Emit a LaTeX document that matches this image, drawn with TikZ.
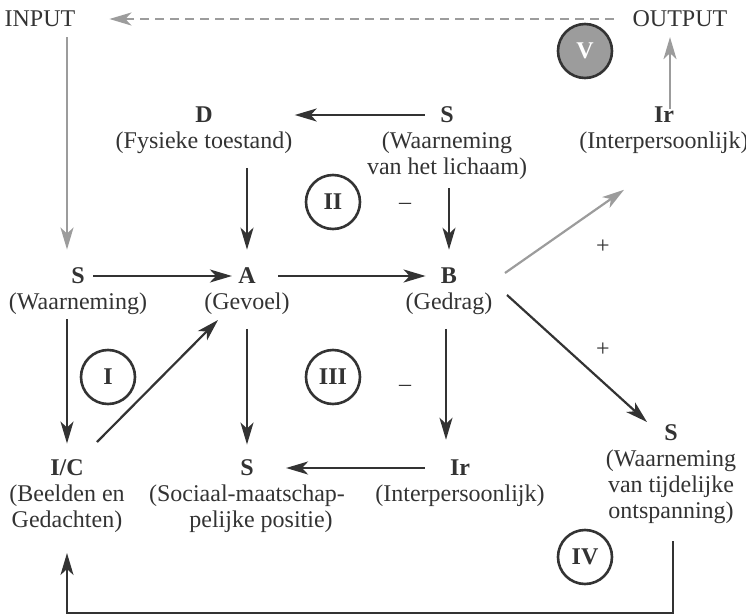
\documentclass[tikz,border=0pt]{standalone}
\usepackage{fontspec}
\setmainfont{Liberation Serif}
\usetikzlibrary{arrows.meta,positioning,calc}
\definecolor{ink}{HTML}{333333}
\definecolor{lgray}{HTML}{9C9C9C}

\begin{document}
\begin{tikzpicture}[x=0.5pt, y=-0.5pt,
    every node/.style={text=ink, font=\fontsize{12}{13}\selectfont},
    letter/.style={font=\fontsize{12}{13}\selectfont\bfseries, inner sep=3pt},
    desc/.style={align=center, inner sep=2pt, below=-1pt of #1},
    pijl/.style={draw=ink, line width=1.1pt, -{Stealth[length=11pt, width=6.5pt, inset=3pt]}},
    grijs/.style={draw=lgray, line width=1.1pt, -{Stealth[length=11pt, width=6.5pt, inset=3pt]}},
    fase/.style={circle, draw=ink, line width=1.3pt, minimum size=27pt, inner sep=0pt,
        font=\fontsize{12}{13}\selectfont\bfseries}]
    \useasboundingbox (0,0) rectangle (746,616);

    % input en output
    \node (input) at (40,19) {INPUT};
    \node (output) at (680,19) {OUTPUT};

    % bovenste rij
    \node[letter] (d) at (204,115) {D};
    \node[desc=d] (d-t) {(Fysieke toestand)};
    \node[letter] (st) at (447,115) {S};
    \node[desc=st] (st-t) {(Waarneming\\van het lichaam)};
    \node[letter] (irt) at (664,115) {Ir};
    \node[desc=irt] (irt-t) {(Interpersoonlijk)};

    % middelste rij
    \node[letter] (sw) at (78,276) {S};
    \node[desc=sw] (sw-t) {(Waarneming)};
    \node[letter] (a) at (247,276) {A};
    \node[desc=a] (a-t) {(Gevoel)};
    \node[letter] (b) at (449,276) {B};
    \node[desc=b] (b-t) {(Gedrag)};

    % onderste rij
    \node[letter] (ic) at (67,468) {I/C};
    \node[desc=ic] (ic-t) {(Beelden en\\Gedachten)};
    \node[letter] (sb) at (247,468) {S};
    \node[desc=sb] (sb-t) {(Sociaal-maatschap-\\\hspace*{14pt}pelijke positie)};
    \node[letter] (irb) at (460,468) {Ir};
    \node[desc=irb] (irb-t) {(Interpersoonlijk)};
    \node[letter] (sr) at (671,433) {S};
    \node[desc=sr] (sr-t) {(Waarneming\\van tijdelijke\\ontspanning)};

    % cirkels
    \node[fase] (f1) at (108,377) {I};
    \node[fase] (f2) at (333,202) {II};
    \node[fase] (f3) at (333,377) {III};
    \node[fase] (f4) at (585,557) {IV};
    \node[fase, fill=lgray, text=white] (f5) at (585,51) {V};

    % plus en min
    \node (min1) at (405,206) {\textendash};
    \node (min2) at (405,388) {\textendash};
    \node (plus1) at (603,247) {+};
    \node (plus2) at (603,350) {+};

    % grijze pijlen
    \draw[grijs, dash pattern=on 4.5pt off 3pt, shorten <=6pt, shorten >=13.5pt] (output) -- (input);
    \draw[grijs, shorten <=1.5pt, shorten >=6pt] (input.south -| ic) -- (sw.north -| ic);
    \draw[grijs, shorten <=-4pt, shorten >=1.5pt] ([xshift=3pt]irt.north) -- ([xshift=3pt]irt.north |- output.south);
    \draw[grijs] ($(b)+(56,-3)$) -- ($(irt-t.south)+(-40,32)$);

    % zwarte pijlen
    \draw[pijl, shorten <=4.5pt, shorten >=-1pt] (st.west) -- (st.west -| d-t.east);
    \draw[pijl, shorten <=5pt, shorten >=6pt] (d-t.south -| a) -- (a.north);
    \draw[pijl, shorten <=2pt, shorten >=6pt] (st-t.south -| b) -- (b.north);
    \draw[pijl, shorten <=1pt] (sw) -- (a);
    \draw[pijl, shorten <=8pt, shorten >=4.5pt] (a) -- (b);
    \draw[pijl, shorten >=5pt] (sw-t.south -| ic) -- (ic.north);
    \draw[pijl] ($(ic)+(30,-26)$) -- ($(a)+(-29,44)$);
    \draw[pijl, shorten <=5pt, shorten >=4.5pt] (a-t.south) -- (sb.north);
    \draw[pijl, shorten <=5pt, shorten >=7pt] ([xshift=-1.5pt]b-t.south) -- ([xshift=-1.5pt]b-t.south |- irb.north);
    \draw[pijl, shorten <=9.5pt, shorten >=13pt] (irb) -- (sb);
    \draw[pijl] ($(b)+(58,19)$) -- ($(sr)+(-24,-11)$);

    % terugkoppeling
    \draw[pijl] ($(sr-t.south)+(2,13)$) -- ++(0,72) -| ($(ic-t.south)+(0,16)$);
\end{tikzpicture}
\end{document}
